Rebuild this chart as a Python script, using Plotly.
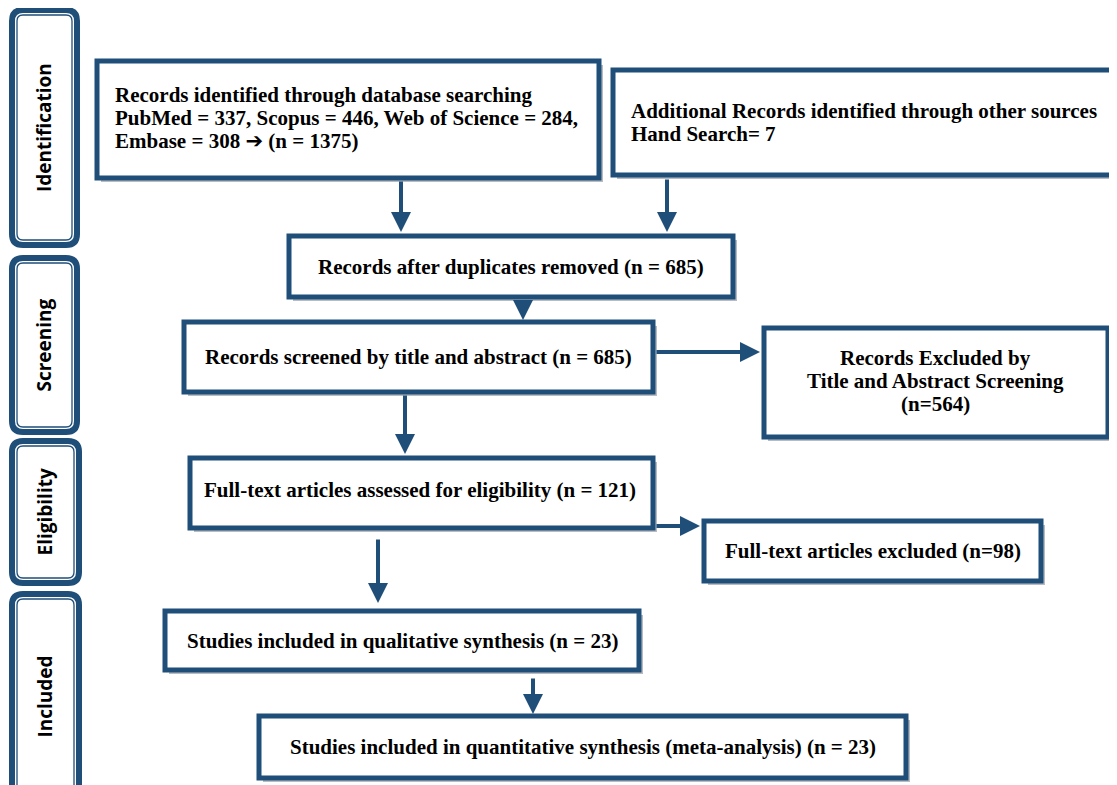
import plotly.graph_objects as go

# ---------------- data ----------------
stages = ["Identification", "Screening", "Eligibility", "Included"]
db_names = ["PubMed", "Scopus", "Web of Science", "Embase"]
db_counts = [337, 446, 284, 308]
db_total = 1375
hand_search = 7
after_duplicates = 685
screened = 685
excluded_title_abstract = 564
fulltext_assessed = 121
fulltext_excluded = 98
qualitative = 23
quantitative = 23

# ---------------- styling / layout ----------------
W, H = 1117, 785
OFF = 8  # default page body margin
BLUE = "#1f4e79"
SHADOW = "#b8bcc2"
SERIF = "Liberation Serif, Times New Roman, serif"
SANS = "Open Sans, Lato, sans-serif"
FS = 21

fig = go.Figure()
shapes = []
annotations = []


def rrect_path(x0, y0, x1, y1, r):
    return (f"M {x0+r},{y0} L {x1-r},{y0} Q {x1},{y0} {x1},{y0+r} "
            f"L {x1},{y1-r} Q {x1},{y1} {x1-r},{y1} L {x0+r},{y1} "
            f"Q {x0},{y1} {x0},{y1-r} L {x0},{y0+r} Q {x0},{y0} {x0+r},{y0} Z")


def stage_box(x0, y0, x1, y1, label):
    shapes.append(dict(type="path", path=rrect_path(x0, y0, x1, y1, 11),
                       line=dict(color=BLUE, width=6), fillcolor="white", layer="below"))
    shapes.append(dict(type="path", path=rrect_path(x0 + 5, y0 + 5, x1 - 5, y1 - 5, 6),
                       line=dict(color=BLUE, width=1.3), fillcolor="rgba(0,0,0,0)", layer="below"))
    annotations.append(dict(x=(x0 + x1) / 2 - 1, y=(y0 + y1) / 2, text=f"<b>{label}</b>",
                            showarrow=False, textangle=-90,
                            font=dict(family=SANS, size=19, color="black")))


def box(x0, y0, x1, y1, lines, align="center", tx=None):
    shapes.append(dict(type="rect", x0=x0 + 4, y0=y0 + 4, x1=x1 + 4, y1=y1 + 4,
                       line=dict(width=0), fillcolor=SHADOW, layer="below"))
    shapes.append(dict(type="rect", x0=x0, y0=y0, x1=x1, y1=y1,
                       line=dict(color=BLUE, width=5), fillcolor="white", layer="below"))
    n = len(lines)
    lh = 23
    cy = (y0 + y1) / 2 if tx is None else tx[1]
    for i, t in enumerate(lines):
        yy = cy + (i - (n - 1) / 2) * lh
        if align == "left":
            annotations.append(dict(x=tx[0], y=yy, text=f"<b>{t}</b>", showarrow=False,
                                    xanchor="left", font=dict(family=SERIF, size=FS, color="black")))
        else:
            xx = (x0 + x1) / 2 if tx is None else tx[0]
            annotations.append(dict(x=xx, y=yy, text=f"<b>{t}</b>", showarrow=False,
                                    xanchor="center", font=dict(family=SERIF, size=FS, color="black")))


def arrow(x0, y0, x1, y1):
    annotations.append(dict(x=x1, y=y1, ax=x0, ay=y0, xref="x", yref="y", axref="x", ayref="y",
                            text="", showarrow=True, arrowhead=2, arrowsize=1.0,
                            arrowwidth=4, arrowcolor=BLUE, standoff=0))


# stage labels
stage_box(12, 10, 77, 245, stages[0])
stage_box(12, 258, 77, 432, stages[1])
stage_box(12, 441, 79, 583, stages[2])
stage_box(12, 594, 79, 800, stages[3])

# main boxes
db_line = ", ".join(f"{n} = {c}" for n, c in zip(db_names[:3], db_counts[:3])) + ","
arrow_glyph = '<span style="font-family:DejaVu Sans">➔</span>'
box(97, 61, 599, 178,
    ["Records identified through database searching", db_line,
     f"{db_names[3]} = {db_counts[3]} {arrow_glyph} (n = {db_total})"],
    align="left", tx=(113, 118))
box(613, 70, 1125, 175,
    ["Additional Records identified through other sources", f"Hand Search= {hand_search}"],
    align="left", tx=(629, 122))
box(289, 236, 733, 297, [f"Records after duplicates removed (n = {after_duplicates})"])
box(184, 322, 653, 392, [f"Records screened by title and abstract (n = {screened})"])
box(764, 328, 1108, 437, ["Records Excluded by", "Title and Abstract Screening",
                          f"(n={excluded_title_abstract})"], tx=(935, 381))
box(190, 458, 653, 528, [f"Full-text articles assessed for eligibility (n = {fulltext_assessed})"],
    tx=(420, 490))
box(704, 521, 1041, 581, [f"Full-text articles excluded (n={fulltext_excluded})"])
box(165, 611, 639, 670, [f"Studies included in qualitative synthesis (n = {qualitative})"])
box(259, 716, 906, 778,
    [f"Studies included in quantitative synthesis (meta-analysis) (n = {quantitative})"])

# arrows
arrow(401, 180, 401, 232)
arrow(667, 178, 667, 232)
arrow(523, 299, 523, 320)
arrow(655, 352, 760, 352)
arrow(405, 394, 405, 454)
arrow(655, 526, 700, 526)
arrow(378, 538, 378, 603)
arrow(533, 677, 533, 714)

fig.update_layout(
    width=W - OFF, height=H - OFF,
    margin=dict(l=0, r=0, t=0, b=0),
    paper_bgcolor="white", plot_bgcolor="white",
    xaxis=dict(range=[OFF, W], visible=False, fixedrange=True),
    yaxis=dict(range=[H, OFF], visible=False, fixedrange=True),
    shapes=shapes, annotations=annotations, showlegend=False,
)
fig.write_html("out.html")
